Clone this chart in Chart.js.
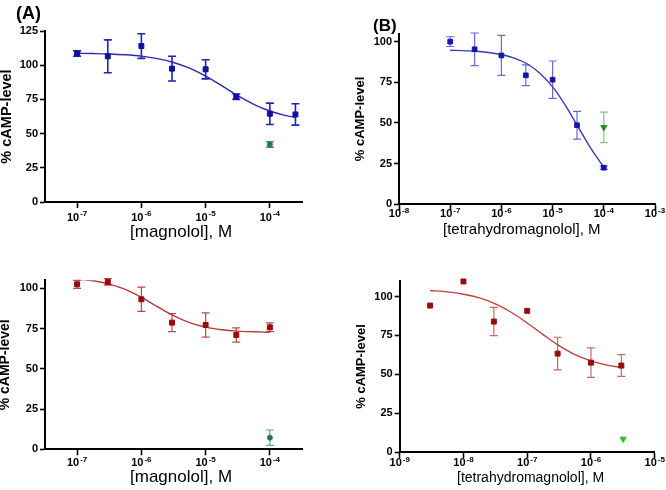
<!DOCTYPE html>
<html>
<head>
<meta charset="utf-8">
<script src="https://cdn.jsdelivr.net/npm/chart.js@4"></script>
<style>
  body { margin: 0; background: #fff; }
  #page { position: relative; width: 666px; height: 490px; overflow: hidden; }
  .panel { position: absolute; width: 333px; height: 245px; }
  .panel canvas { display: block; }
  .tag { position: absolute; font-family: "Liberation Sans", Arial, sans-serif; font-weight: bold; line-height: 1; }
  .xt { position: absolute; font-family: "Liberation Sans", Arial, sans-serif; line-height: 1; white-space: nowrap; }
</style>
</head>
<body>
<div id="page">
  <div class="panel" style="left:0;top:0"><canvas id="chartA" width="333" height="245"></canvas></div>
  <div class="panel" style="left:333px;top:0"><canvas id="chartB" width="333" height="245"></canvas></div>
  <div class="panel" style="left:0;top:245px"><canvas id="chartC" width="333" height="245"></canvas></div>
  <div class="panel" style="left:333px;top:245px"><canvas id="chartD" width="333" height="245"></canvas></div>
  <div class="tag" style="left:16px;top:4px;font-size:18px">(A)</div>
  <div class="tag" style="left:373px;top:17px;font-size:17px">(B)</div>
  <div class="xt" id="xtA" style="left:130px;top:223px;font-size:17px"></div>
  <div class="xt" id="xtB" style="left:443px;top:221px;font-size:15px"></div>
  <div class="xt" id="xtC" style="left:130px;top:468px;font-size:17px"></div>
  <div class="xt" id="xtD" style="left:457px;top:470px;font-size:14px"></div>
</div>
<script>
// (A) magnolol, top left
const concA = [1e-7, 3e-7, 1e-6, 3e-6, 1e-5, 3e-5, 1e-4, 2.5e-4];
const meanA = [108.5, 106.5, 114, 97.5, 97, 77, 64.5, 64];
const errA = [2, 12, 9, 9, 7, 2, 7.8, 7.8];
const ctrlConcA = [1e-4];
const ctrlMeanA = [42];
const ctrlErrA = [2];
const fitConcA = [1e-7, 1.78e-7, 3.16e-7, 5.62e-7, 1e-6, 1.78e-6, 3.16e-6, 5.62e-6, 1e-5, 1.78e-5, 3.16e-5, 5.62e-5, 1e-4, 1.78e-4, 2.5e-4];
const fitA = [108.7, 108.5, 108.2, 107.6, 106.6, 104.8, 102.0, 97.8, 92.0, 85.0, 77.7, 71.4, 66.5, 63.1, 61.8];

// (B) tetrahydromagnolol, top right
const concB = [1e-7, 3e-7, 1e-6, 3e-6, 1e-5, 3e-5, 1e-4];
const meanB = [100, 95.3, 91.5, 79.3, 76.6, 48.6, 22.5];
const errB = [3, 10, 12.3, 6.4, 11.5, 8.5, 1];
const ctrlConcB = [1e-4];
const ctrlMeanB = [47.3];
const ctrlErrB = [9.4];
const fitConcB = [1e-7, 1.78e-7, 3.16e-7, 5.62e-7, 1e-6, 1.78e-6, 3.16e-6, 5.62e-6, 1e-5, 1.78e-5, 3.16e-5, 5.62e-5, 1e-4];
const fitB = [94.7, 94.5, 94.1, 93.3, 92.1, 89.9, 86.4, 80.6, 72.2, 60.8, 47.5, 34.2, 22.8];

// (C) magnolol, bottom left
const concC = [1e-7, 3e-7, 1e-6, 3e-6, 1e-5, 3e-5, 1e-4];
const meanC = [102.5, 104, 93.2, 78.7, 77.2, 71, 75.8];
const errC = [2.5, 2, 7.5, 5.6, 7.5, 4.4, 2.7];
const ctrlConcC = [1e-4];
const ctrlMeanC = [7.2];
const ctrlErrC = [4.8];
const fitConcC = [1e-7, 1.78e-7, 3.16e-7, 5.62e-7, 1e-6, 1.78e-6, 3.16e-6, 5.62e-6, 1e-5, 1.78e-5, 3.16e-5, 5.62e-5, 1e-4];
const fitC = [105.8, 104.7, 102.6, 99.3, 94.4, 88.6, 83.0, 78.7, 75.9, 74.3, 73.4, 73.0, 72.7];

// (D) tetrahydromagnolol, bottom right
const concD = [3e-9, 1e-8, 3e-8, 1e-7, 3e-7, 1e-6, 3e-6];
const meanD = [94.2, 109.7, 83.9, 90.8, 63.3, 57.5, 55.6];
const errD = [0, 0, 9.1, 0, 10.5, 9.5, 7];
const ctrlConcD = [3.2e-6];
const ctrlMeanD = [8.4];
const ctrlErrD = [0];
const fitConcD = [3e-9, 5.62e-9, 1e-8, 1.78e-8, 3.16e-8, 5.62e-8, 1e-7, 1.78e-7, 3.16e-7, 5.62e-7, 1e-6, 1.78e-6, 3e-6];
const fitD = [103.9, 103.0, 101.5, 99.1, 95.3, 89.9, 83.0, 75.5, 68.4, 62.6, 58.6, 55.9, 54.4];

// axis ticks
const xTicksA = [1e-7, 1e-6, 1e-5, 1e-4];
const xTicksB = [1e-8, 1e-7, 1e-6, 1e-5, 1e-4, 1e-3];
const xTicksD = [1e-9, 1e-8, 1e-7, 1e-6, 1e-5];
const yTicksA = [0, 25, 50, 75, 100, 125];
const yTicksB = [0, 25, 50, 75, 100];

const yTitle = '% cAMP-level';
const xTitleMag = '[magnolol], M';
const xTitleThm = '[tetrahydromagnolol], M';

const FONT = '"Liberation Sans", Arial, Helvetica, sans-serif';
Chart.defaults.font.family = FONT;
Chart.defaults.color = '#000';

function pairs(xs, ys) {
  return xs.map((x, i) => ({ x: x, y: ys[i] }));
}

// vertical error bars with caps, drawn under the markers
const errorBars = {
  id: 'errorBars',
  beforeDatasetsDraw(chart) {
    const ctx = chart.ctx;
    const xs = chart.scales.x, ys = chart.scales.y;
    chart.data.datasets.forEach(ds => {
      if (!ds.yErr) return;
      ctx.save();
      ctx.strokeStyle = ds.errColor;
      ctx.lineWidth = ds.errWidth;
      ds.data.forEach((p, i) => {
        const e = ds.yErr[i];
        if (!e) return;
        const px = xs.getPixelForValue(p.x);
        const top = ys.getPixelForValue(p.y + e);
        const bot = ys.getPixelForValue(p.y - e);
        ctx.beginPath();
        ctx.moveTo(px, top); ctx.lineTo(px, bot);
        ctx.moveTo(px - 4, top); ctx.lineTo(px + 4, top);
        ctx.moveTo(px - 4, bot); ctx.lineTo(px + 4, bot);
        ctx.stroke();
      });
      ctx.restore();
    });
  }
};

// x tick labels as 10 with a raised exponent
const powerLabels = {
  id: 'powerLabels',
  afterDraw(chart, args, opts) {
    const ctx = chart.ctx;
    const xs = chart.scales.x;
    const base = chart.chartArea.bottom + opts.drop;
    ctx.save();
    ctx.fillStyle = '#000';
    ctx.textBaseline = 'alphabetic';
    ctx.textAlign = 'left';
    xs.ticks.forEach(t => {
      const exp = String(Math.round(Math.log10(t.value)));
      ctx.font = 'bold 11px ' + FONT;
      const w1 = ctx.measureText('10').width;
      ctx.font = 'bold 8px ' + FONT;
      const w2 = ctx.measureText(exp).width;
      const x0 = xs.getPixelForValue(t.value) - (w1 + w2 + 1) / 2;
      ctx.font = 'bold 11px ' + FONT;
      ctx.fillText('10', x0, base);
      ctx.font = 'bold 8px ' + FONT;
      ctx.fillText(exp, x0 + w1 + 1, base - 4.5);
    });
    ctx.restore();
  }
};

function buildPanel(id, p) {
  document.getElementById(p.titleId).textContent = p.xTitle;
  new Chart(document.getElementById(id), {
    type: 'scatter',
    data: {
      datasets: [
        {
          data: pairs(p.conc, p.mean), yErr: p.err, errColor: p.errColor, errWidth: p.errWidth,
          pointStyle: 'rect', pointRadius: p.markSize, pointBorderWidth: 1,
          backgroundColor: p.color, borderColor: p.color, showLine: false, clip: false
        },
        {
          data: pairs(p.ctrlX, p.ctrlY), yErr: p.ctrlErr, errColor: p.ctrlErrColor, errWidth: p.errWidth,
          pointStyle: p.ctrlStyle, pointRotation: p.ctrlStyle === 'triangle' ? 180 : 0,
          pointRadius: p.ctrlSize, pointBorderWidth: 1,
          backgroundColor: p.ctrlColor, borderColor: p.ctrlColor, showLine: false, clip: false
        },
        {
          type: 'line', data: pairs(p.fitX, p.fitY), borderColor: p.fitColor, borderWidth: 1.4,
          pointRadius: 0, cubicInterpolationMode: 'monotone', fill: false
        }
      ]
    },
    options: {
      responsive: false,
      animation: false,
      events: [],
      layout: { padding: { left: p.padLeft, top: p.top, right: p.padRight, bottom: 0 } },
      plugins: { legend: { display: false }, tooltip: { enabled: false }, powerLabels: { drop: p.labelDrop } },
      scales: {
        x: {
          type: 'logarithmic', bounds: 'data', min: p.xMin, max: p.xMax,
          afterBuildTicks: s => { s.ticks = p.xTicks.map(v => ({ value: v })); },
          afterFit: s => { s.height = p.xHeight; },
          border: { display: true, color: '#000', width: 2 },
          grid: { display: true, drawOnChartArea: false, drawTicks: true, tickLength: 6, tickWidth: 1.6, tickColor: '#000' },
          ticks: { display: false, autoSkip: false, maxRotation: 0 },
          title: { display: false }
        },
        y: {
          type: 'linear', bounds: 'data', min: 0, max: p.yMax,
          afterBuildTicks: s => { s.ticks = p.yTicks.map(v => ({ value: v })); },
          afterFit: s => { s.width = p.yWidth; },
          border: { display: true, color: '#000', width: 2 },
          grid: { display: true, drawOnChartArea: false, drawTicks: true, tickLength: 5, tickWidth: 1.6, tickColor: '#000' },
          ticks: { padding: 2, font: { size: 11, weight: 'bold' } },
          title: { display: true, text: yTitle, font: { size: p.yTitleSize, weight: 'bold', lineHeight: 1 }, padding: { top: p.yTitlePad, bottom: 0 } }
        }
      }
    },
    plugins: [errorBars, powerLabels]
  });
}

window.onload = function () {
  buildPanel('chartA', {
    conc: concA, mean: meanA, err: errA, ctrlX: ctrlConcA, ctrlY: ctrlMeanA, ctrlErr: ctrlErrA,
    fitX: fitConcA, fitY: fitA,
    color: '#10109e', errColor: '#2424b4', fitColor: '#2a2ab8', errWidth: 1.6, markSize: 3.5,
    ctrlColor: '#1f7a5a', ctrlErrColor: '#3f8f72', ctrlStyle: 'circle', ctrlSize: 2.5,
    xMin: 3.162e-8, xMax: 3.162e-4, xTicks: xTicksA, yMax: 125, yTicks: yTicksA,
    padLeft: 0, top: 31, padRight: 31, yWidth: 45, xHeight: 43, labelDrop: 18.5,
    titleId: 'xtA', xTitle: xTitleMag, yTitleSize: 14.5, yTitlePad: 0
  });
  buildPanel('chartB', {
    conc: concB, mean: meanB, err: errB, ctrlX: ctrlConcB, ctrlY: ctrlMeanB, ctrlErr: ctrlErrB,
    fitX: fitConcB, fitY: fitB,
    color: '#1414a8', errColor: '#6a6acc', fitColor: '#3a3ab8', errWidth: 1.2, markSize: 3.3,
    ctrlColor: '#2a8a2a', ctrlErrColor: '#86c486', ctrlStyle: 'triangle', ctrlSize: 3.5,
    xMin: 1e-8, xMax: 1e-3, xTicks: xTicksB, yMax: 105, yTicks: yTicksB,
    padLeft: 20.5, top: 33.5, padRight: 11, yWidth: 45.5, xHeight: 40.7, labelDrop: 13,
    titleId: 'xtB', xTitle: xTitleThm, yTitleSize: 13, yTitlePad: 0
  });
  buildPanel('chartC', {
    conc: concC, mean: meanC, err: errC, ctrlX: ctrlConcC, ctrlY: ctrlMeanC, ctrlErr: ctrlErrC,
    fitX: fitConcC, fitY: fitC,
    color: '#9a0a0a', errColor: '#bb4a4a', fitColor: '#b43c3c', errWidth: 1.2, markSize: 3.5,
    ctrlColor: '#1a7a58', ctrlErrColor: '#5ea58a', ctrlStyle: 'circle', ctrlSize: 2.5,
    xMin: 3.162e-8, xMax: 3.162e-4, xTicks: xTicksA, yMax: 105, yTicks: yTicksB,
    padLeft: 0, top: 35.3, padRight: 31, yWidth: 45, xHeight: 40.7, labelDrop: 17,
    titleId: 'xtC', xTitle: xTitleMag, yTitleSize: 14, yTitlePad: -2
  });
  buildPanel('chartD', {
    conc: concD, mean: meanD, err: errD, ctrlX: ctrlConcD, ctrlY: ctrlMeanD, ctrlErr: ctrlErrD,
    fitX: fitConcD, fitY: fitD,
    color: '#9a0a0a', errColor: '#c46a6a', fitColor: '#b84444', errWidth: 1.2, markSize: 3.5,
    ctrlColor: '#22c422', ctrlErrColor: '#22c422', ctrlStyle: 'triangle', ctrlSize: 3.5,
    xMin: 1e-9, xMax: 1e-5, xTicks: xTicksD, yMax: 110, yTicks: yTicksB,
    padLeft: 21.5, top: 36, padRight: 11.3, yWidth: 45.2, xHeight: 38, labelDrop: 14,
    titleId: 'xtD', xTitle: xTitleThm, yTitleSize: 13, yTitlePad: 0
  });
};
</script>
</body>
</html>
